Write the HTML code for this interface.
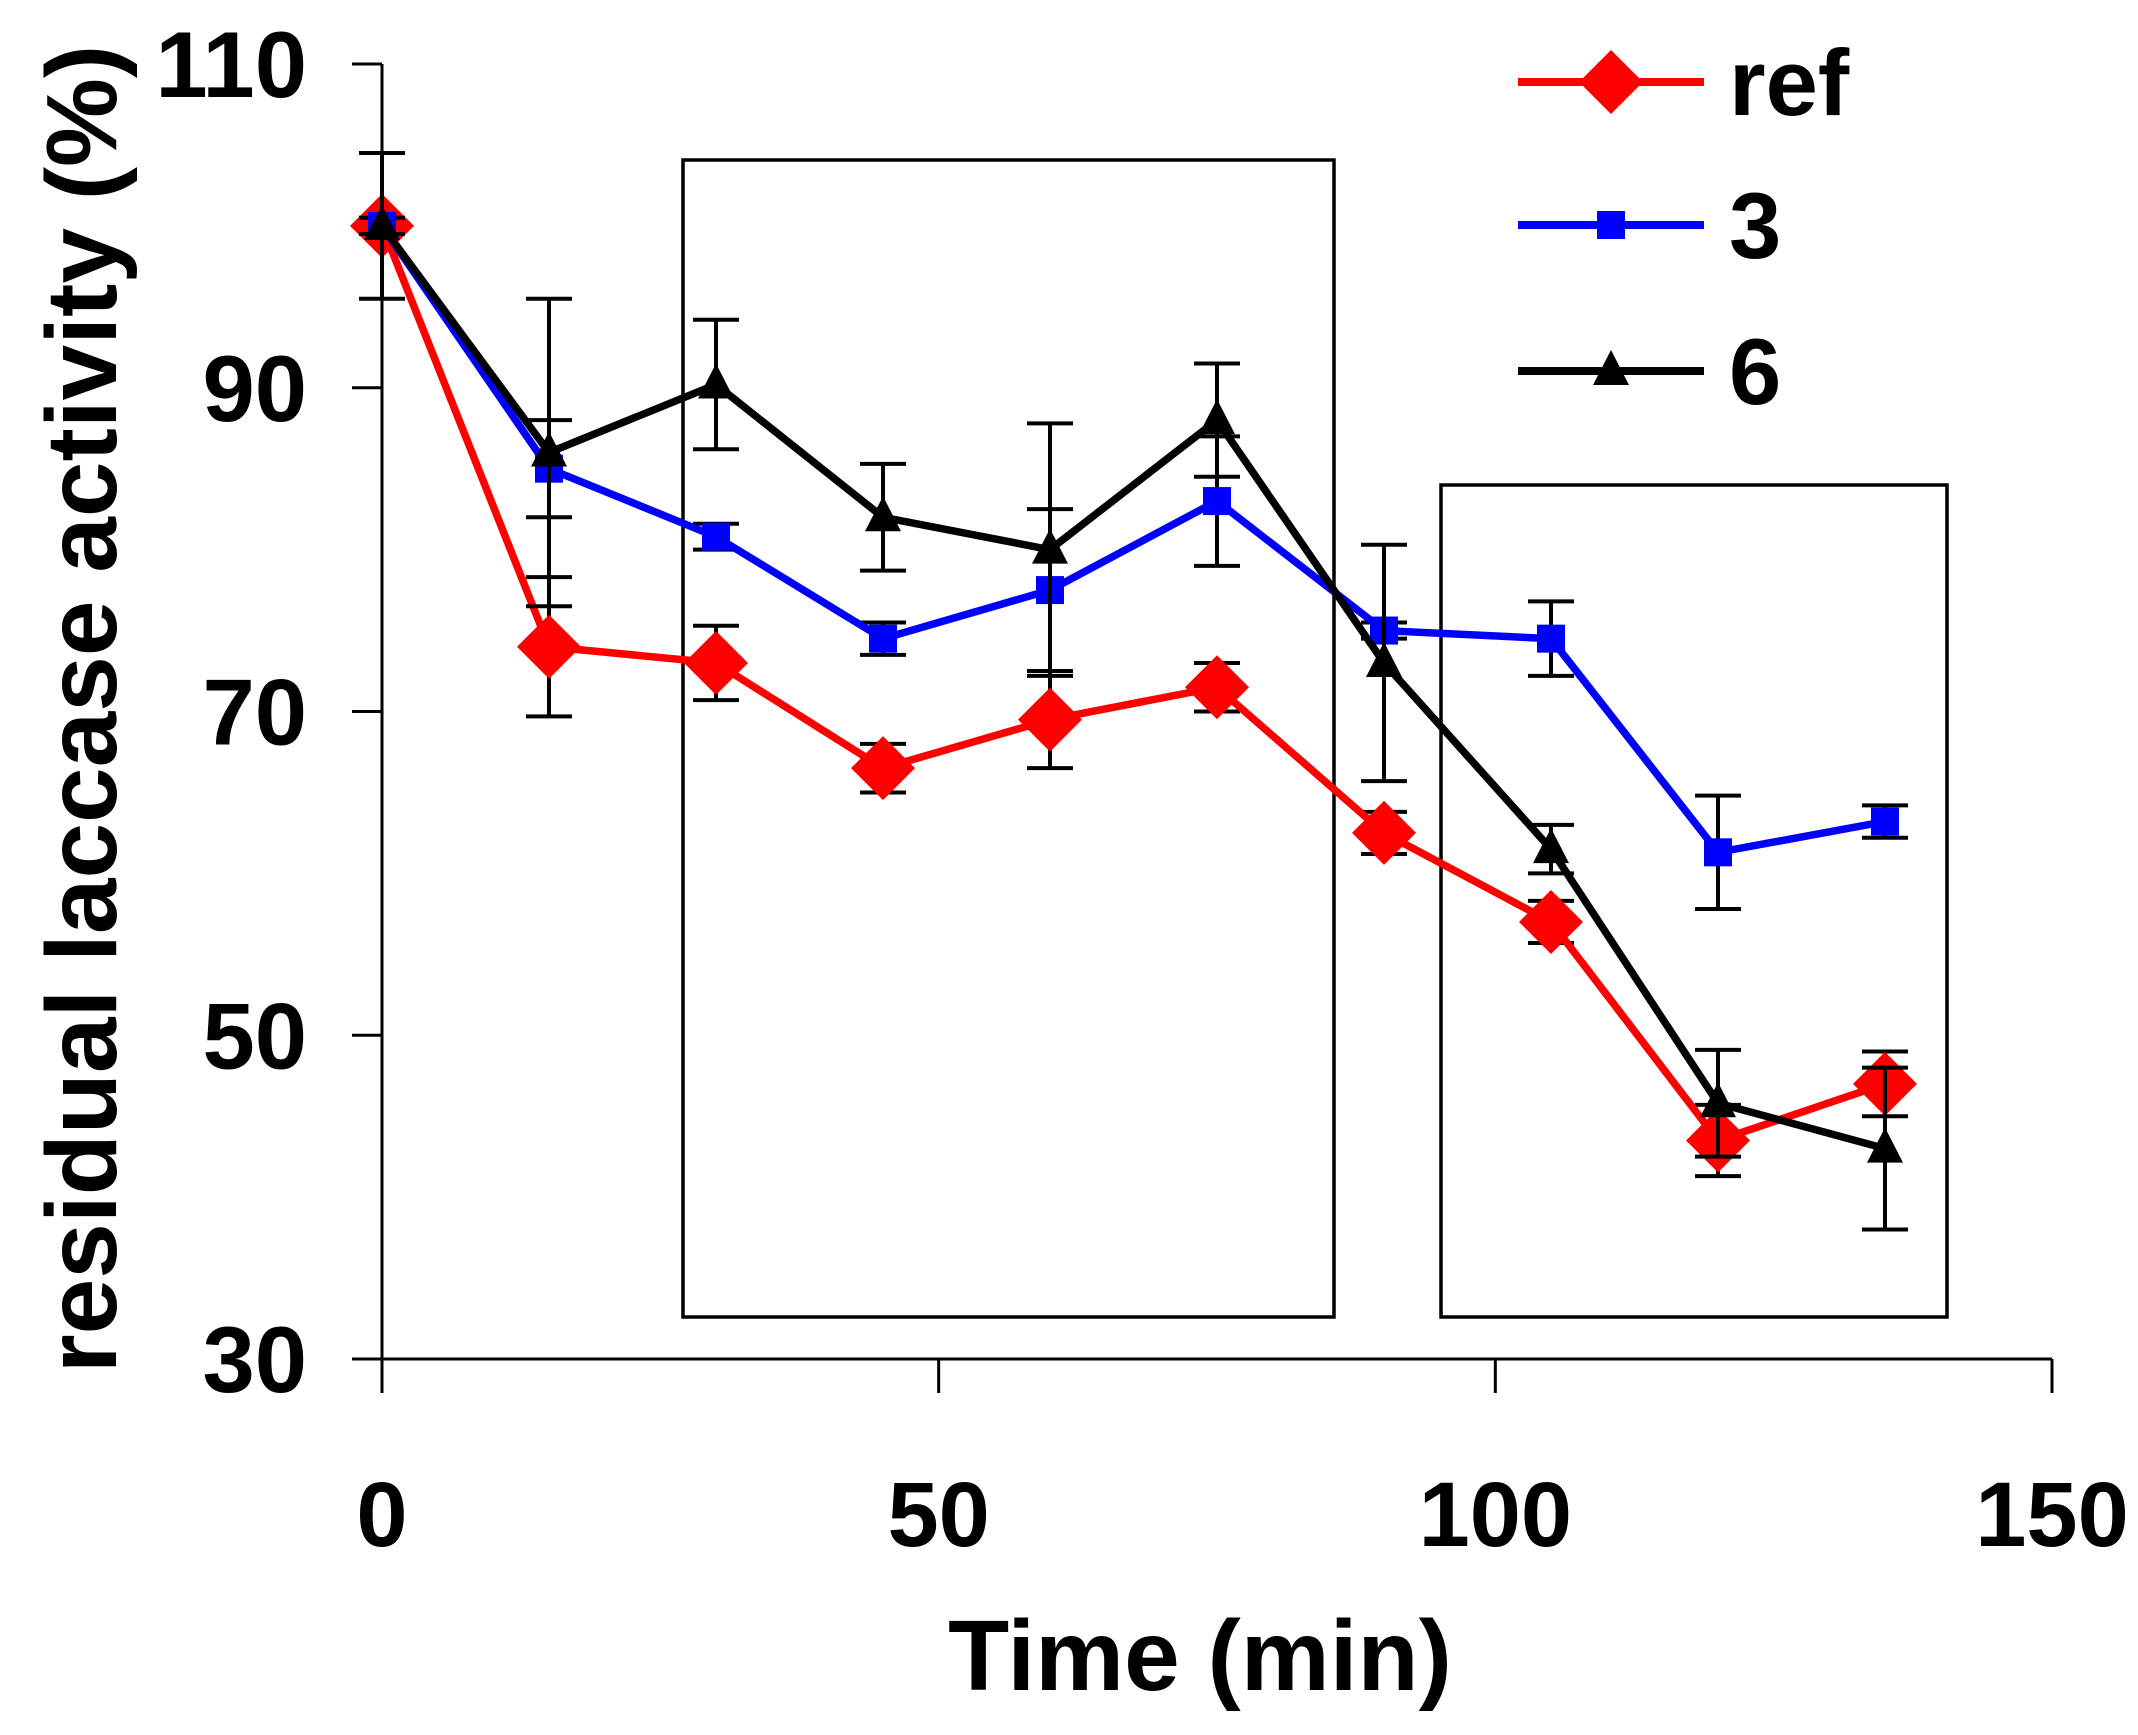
<!DOCTYPE html>
<html><head><meta charset="utf-8"><style>
body{margin:0;background:#fff}
svg{display:block;font-family:"Liberation Sans",Arial,sans-serif;font-weight:bold}
</style></head><body>
<svg id="chart" width="2138" height="1735" viewBox="0 0 2138 1735">
<g id="axes"></g>
<g id="boxes">
<rect x="683" y="160" width="651" height="1157" fill="none" stroke="#000" stroke-width="3.5"/>
<rect x="1441" y="485" width="506" height="832" fill="none" stroke="#000" stroke-width="3.5"/>
</g>
<g id="series"></g>
<g id="legend"></g>
<text x="1200" y="1690" font-size="100" text-anchor="middle">Time (min)</text>
<text transform="translate(116,709) rotate(-90)" font-size="100" text-anchor="middle">residual laccase activity (%)</text>
</svg>
<script>
const times=[0,15,30,45,60,75,90,105,120,135];
const seriesNames=["ref","3","6"];
const refValues=[100,74,73,66.5,69.5,71.5,62.5,57,43.5,47];
const refErrors=[0.5,4.3,2.3,1.5,3,1.5,1.3,1.3,2.2,2];
const s3Values=[100,85,80.8,74.5,77.5,83,75,74.5,61.3,63.2];
const s3Errors=[0.5,3,0.8,1,5,4,0.5,2.3,3.5,1];
const s6Values=[100,86,90.2,82,80,88,73,61.5,45.8,43];
const s6Errors=[4.5,9.5,4,3.3,7.8,3.5,7.3,1.5,3.3,5];
const xTicks=[0,50,100,150];
const yTicks=[30,50,70,90,110];
const NS="http://www.w3.org/2000/svg";
const X=v=>382+(v-0)*(2052-382)/150;
const Y=v=>1359-(v-30)*(1359-64)/80;
function mk(t,a,p){const e=document.createElementNS(NS,t);for(const k in a)e.setAttribute(k,a[k]);p.appendChild(e);return e;}
const axes=document.getElementById('axes');
let e=mk('line',{x1:382,y1:Y(110),x2:382,y2:1359,stroke:'#000','stroke-width':3},axes);


e=mk('line',{x1:352,y1:1359,x2:X(150),y2:1359,stroke:'#000','stroke-width':3},axes);


yTicks.forEach(v=>{
 let t=mk('line',{x1:352,y1:Y(v),x2:382,y2:Y(v),stroke:'#000','stroke-width':3},axes);
 
 
 let l=mk('text',{x:307,y:Y(v)+33,'font-size':94,'text-anchor':'end'},axes);l.textContent=v;
 
 
});
xTicks.forEach(v=>{
 let t=mk('line',{x1:X(v),y1:1359,x2:X(v),y2:1393,stroke:'#000','stroke-width':3},axes);
 
 
 let l=mk('text',{x:X(v),y:1546,'font-size':92,'text-anchor':'middle'},axes);l.textContent=v;
 
 
});
function marker(kind,cx,cy,color,p){
 if(kind==='diamond') return mk('polygon',{points:`${cx},${cy-32} ${cx+32},${cy} ${cx},${cy+32} ${cx-32},${cy}`,fill:color},p);
 if(kind==='square') return mk('rect',{x:cx-14,y:cy-14,width:28,height:28,fill:color},p);
 return mk('polygon',{points:`${cx},${cy-21} ${cx+18},${cy+14} ${cx-18},${cy+14}`,fill:color},p);
}
const defs=[[refValues,refErrors,'#ff0000','diamond'],[s3Values,s3Errors,'#0000ff','square'],[s6Values,s6Errors,'#000000','triangle']];
const sg=document.getElementById('series');
defs.forEach((d,i)=>{
 const g=mk('g',{},sg);
 
 
 times.forEach((t,j)=>{
  const x=X(t),y1=Y(d[0][j]+d[1][j]),y2=Y(d[0][j]-d[1][j]);
  const eb=mk('path',{d:`M${x},${y1}V${y2}M${x-23},${y1}H${x+23}M${x-23},${y2}H${x+23}`,stroke:'#000','stroke-width':4,fill:'none'},g);
  
  
 });
 const ln=mk('polyline',{points:times.map((t,j)=>X(t)+','+Y(d[0][j])).join(' '),fill:'none',stroke:d[2],'stroke-width':7.5},g);
 
 
 times.forEach((t,j)=>{
  const m=marker(d[3],X(t),Y(d[0][j]),d[2],g);
  
  
 });
});
const lg=document.getElementById('legend');
[82,225,371].forEach((y,i)=>{
 const g=mk('g',{},lg);
 
 
 mk('line',{x1:1518,y1:y,x2:1704,y2:y,stroke:defs[i][2],'stroke-width':8},g);
 marker(defs[i][3],1611,y,defs[i][2],g);
 const t=mk('text',{x:1729,y:y+33,'font-size':94},g);t.textContent=seriesNames[i];
});
</script>
</body></html>
